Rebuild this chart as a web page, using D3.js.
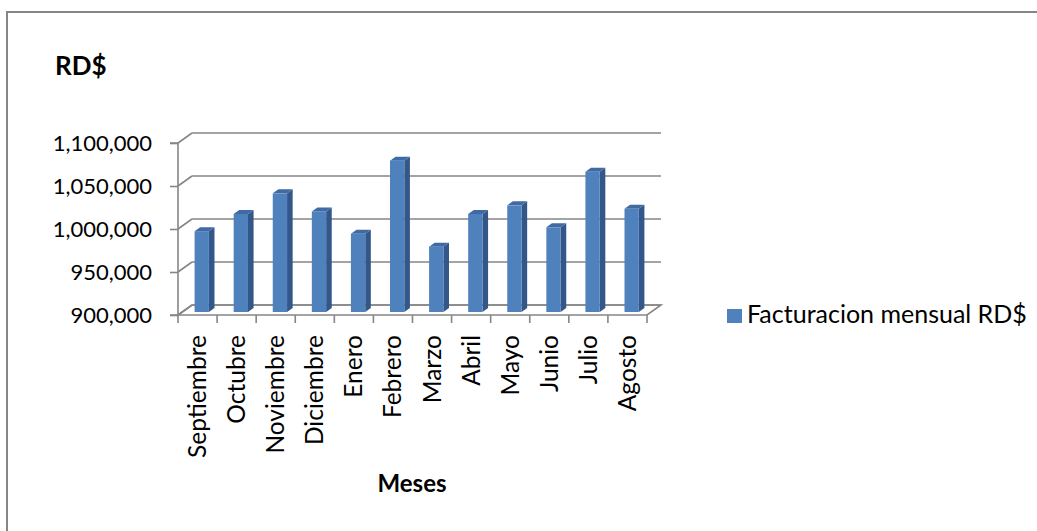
<!DOCTYPE html>
<html>
<head>
<meta charset="utf-8">
<script src="https://cdn.jsdelivr.net/npm/d3@7/dist/d3.min.js"></script>
<style>
  html, body { margin: 0; padding: 0; background: #ffffff; }
  svg { display: block; }
  text { font-family: Lato, "Open Sans", "DejaVu Sans", sans-serif; fill: #000; }
</style>
</head>
<body>
<svg id="chart" width="1037" height="531"></svg>
<script>
// Monthly billing, RD$
const months = ["Septiembre", "Octubre", "Noviembre", "Diciembre", "Enero", "Febrero",
                "Marzo", "Abril", "Mayo", "Junio", "Julio", "Agosto"];
const billing = [994000, 1014000, 1038000, 1017000, 991000, 1076000,
                 976000, 1014000, 1024000, 998500, 1063000, 1020000];
const yTicks = [900000, 950000, 1000000, 1050000, 1100000];
const seriesName = "Facturacion mensual RD$";
const chartTitle = "RD$";
const xTitle = "Meses";

const svg = d3.select("#chart");

// Plot frame (front plane) and depth offset for the 3-D look
const plotLeft = 178, plotRight = 647, plotTop = 143, floorY = 315;
const DX = 14, DY = 10;          // full depth of the floor
const f0 = 0.3, f1 = 0.7;        // depth slice occupied by the columns

const x = d3.scaleBand().domain(months).range([plotLeft, plotRight])
  .paddingInner(0.634).paddingOuter(0.317);
const y = d3.scaleLinear().domain([900000, 1100000]).range([floorY, plotTop]);

const grid = "#868686";

// Outer chart border
svg.append("rect").attr("x", 7).attr("y", 12).attr("width", 1200).attr("height", 700)
  .attr("fill", "none").attr("stroke", grid).attr("stroke-width", 2);

// Back-wall gridlines and side-wall diagonals
const g = svg.append("g");
yTicks.forEach(t => {
  const yy = y(t);
  g.append("line").attr("x1", plotLeft + DX).attr("x2", plotRight + DX)
    .attr("y1", yy - DY).attr("y2", yy - DY)
    .attr("stroke", grid).attr("stroke-width", 1.6);
  g.append("line").attr("x1", plotLeft).attr("y1", yy)
    .attr("x2", plotLeft + DX).attr("y2", yy - DY)
    .attr("stroke", grid).attr("stroke-width", 1.6);
});

// Floor outline
const fy = y(900000);
g.append("path")
  .attr("d", `M${plotLeft},${fy} L${plotRight},${fy} L${plotRight + DX},${fy - DY} L${plotLeft + DX},${fy - DY} Z`)
  .attr("fill", "none").attr("stroke", grid).attr("stroke-width", 1.6);

// Columns
const bw = x.bandwidth();
const bars = svg.append("g");
months.forEach((m, i) => {
  const bx = x(m), v = billing[i];
  const yt = y(v), yb = y(900000);
  const xa = bx + DX * f0, xb = bx + bw + DX * f0;
  const xc = bx + bw + DX * f1, xd = bx + DX * f1;
  const ya = yt - DY * f0, yc = yt - DY * f1;
  // right side face
  bars.append("path")
    .attr("d", `M${xb},${ya} L${xc},${yc} L${xc},${yb - DY * f1} L${xb},${yb - DY * f0} Z`)
    .attr("fill", "#34578a");
  // top face
  bars.append("path")
    .attr("d", `M${xa},${ya} L${xb},${ya} L${xc},${yc} L${xd},${yc} Z`)
    .attr("fill", "#3f6aa3");
  // front face
  bars.append("rect").attr("x", xa).attr("y", ya)
    .attr("width", bw).attr("height", yb - yt)
    .attr("fill", "#4f81bd");
});

// Value axis (front-left edge) with ticks and labels
const yAxis = d3.axisLeft(y).tickValues(yTicks).tickSize(8).tickPadding(18)
  .tickFormat(d3.format(","));
const yAx = svg.append("g").attr("transform", `translate(${plotLeft},0)`).call(yAxis);
yAx.select(".domain").attr("stroke", grid).attr("stroke-width", 1.6)
  .attr("d", `M-8,${plotTop}H0V${floorY}H-8`);
yAx.selectAll(".tick line").attr("stroke", grid).attr("stroke-width", 1.6);
yAx.selectAll(".tick text").attr("font-size", 22).attr("fill", "#000")
  .style("font-family", "Lato, 'Open Sans', sans-serif");

// Category axis ticks along the front floor edge
const step = x.step();
const xt = svg.append("g");
d3.range(months.length + 1).forEach(k => {
  const tx = plotLeft + k * step;
  xt.append("line").attr("x1", tx).attr("x2", tx).attr("y1", floorY).attr("y2", floorY + 8)
    .attr("stroke", grid).attr("stroke-width", 1.6);
});
months.forEach(m => {
  const cx = x(m) + bw / 2;
  xt.append("text")
    .attr("transform", `translate(${cx + 8.5},335) rotate(-90)`)
    .attr("text-anchor", "end")
    .attr("font-size", 24.5)
    .text(m);
});

// Titles
svg.append("text").attr("x", 55).attr("y", 75)
  .attr("font-size", 26).attr("font-weight", "bold").text(chartTitle);
svg.append("text").attr("x", 412).attr("y", 492).attr("text-anchor", "middle")
  .attr("font-size", 24).attr("font-weight", "bold").text(xTitle);

// Legend
const lg = svg.append("g");
lg.append("rect").attr("x", 727).attr("y", 309).attr("width", 15).attr("height", 14)
  .attr("fill", "#4f81bd");
lg.append("text").attr("x", 747).attr("y", 323).attr("font-size", 25).text(seriesName);
</script>
</body>
</html>
